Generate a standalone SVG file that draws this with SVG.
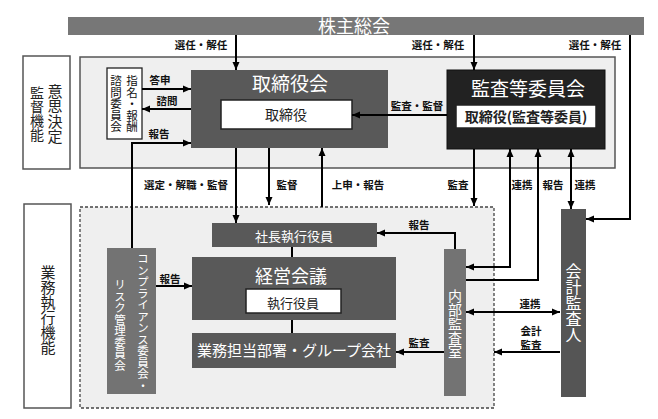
<svg xmlns="http://www.w3.org/2000/svg" width="658" height="419" viewBox="0 0 658 419">
<defs>
<marker id="arr" viewBox="0 0 8 8" refX="8" refY="4" markerWidth="8" markerHeight="8" markerUnits="userSpaceOnUse" orient="auto-start-reverse"><path d="M0,0.5 L8,4 L0,7.5 z" fill="#000"/></marker>
</defs>
<style>
text{font-family:"Noto Sans CJK JP","Noto Sans",sans-serif}
.lbl{font-size:10.5px;font-weight:bold;fill:#111;text-anchor:middle}
.wt{fill:#fff;text-anchor:middle}
.dt{fill:#222;text-anchor:middle}
.vt{writing-mode:vertical-rl;text-anchor:middle}
.ln{fill:none;stroke:#000;stroke-width:2}
.inner{fill:#fff;stroke:#222;stroke-width:1.5}
</style>
<rect width="658" height="419" fill="#fff"/>

<!-- backgrounds -->
<g id="area-top"><rect x="80" y="57" width="535" height="111" fill="#efefef" stroke="#555" stroke-width="1.5"/></g>
<g id="area-bottom"><rect x="80" y="207" width="414" height="201" fill="#efefef" stroke="#444" stroke-width="1.3" stroke-dasharray="3,2"/></g>

<g id="label-top"><rect x="23" y="56" width="47" height="113" fill="#fff" stroke="#555" stroke-width="1.5"/>
<text class="vt" x="55" y="114" font-size="15" fill="#222">意思決定</text>
<text class="vt" x="37" y="114" font-size="14" fill="#222">監督機能</text></g>
<g id="label-bottom"><rect x="24" y="204" width="47" height="204" fill="#fff" stroke="#555" stroke-width="1.5"/>
<text class="vt" x="48" y="310" font-size="15" fill="#222">業務執行機能</text></g>

<g id="kabunushi"><rect x="68" y="17" width="576" height="18" fill="#777"/>
<text class="wt" x="354" y="33" font-size="18">株主総会</text></g>

<g id="shimon"><rect x="107" y="68" width="35" height="71" fill="#fff" stroke="#222" stroke-width="1.3"/>
<text class="vt" x="132" y="104" font-size="11.5" fill="#111">指名・報酬</text>
<text class="vt" x="116" y="104" font-size="11.5" fill="#111">諮問委員会</text></g>

<g id="torishimariyakukai"><rect x="191" y="70" width="197" height="78" fill="#595959"/>
<text class="wt" x="290" y="91" font-size="19">取締役会</text>
<rect class="inner" x="221" y="100" width="131" height="29"/>
<text class="dt" x="286" y="120" font-size="14">取締役</text></g>

<g id="kansa-iinkai"><rect x="447" y="70" width="158" height="79" fill="#222" stroke="#111"/>
<text class="wt" x="528" y="96" font-size="19">監査等委員会</text>
<rect class="inner" x="456" y="105" width="140" height="23"/>
<text class="dt" x="526" y="122" font-size="14" font-weight="bold">取締役(監査等委員)</text></g>

<g id="shacho"><rect x="212" y="223" width="165" height="24" fill="#595959"/>
<text class="wt" x="294" y="241" font-size="13">社長執行役員</text></g>

<g id="keiei"><rect x="192" y="257" width="204" height="63" fill="#595959"/>
<text class="wt" x="291" y="283" font-size="18">経営会議</text>
<rect class="inner" x="246" y="289" width="95" height="24"/>
<text class="dt" x="293" y="308" font-size="13">執行役員</text></g>

<g id="gyomu"><rect x="192" y="333" width="204" height="35" fill="#595959"/>
<text class="wt" x="294" y="356" font-size="15">業務担当部署・グループ会社</text></g>

<g id="compliance"><rect x="107" y="248" width="49" height="146" fill="#737373"/>
<text class="vt" x="143" y="322" font-size="11.5" fill="#fff">コンプライアンス委員会・</text>
<text class="vt" x="120" y="325" font-size="11.5" fill="#fff">リスク管理委員会</text></g>

<g id="naibu"><rect x="444" y="249" width="22" height="147" fill="#737373"/>
<text class="vt" x="455" y="324" font-size="14" fill="#fff">内部監査室</text></g>

<g id="kaikei"><rect x="561" y="209" width="25" height="188" fill="#555"/>
<text class="vt" x="573.5" y="303" font-size="16" fill="#fff">会計監査人</text></g>

<g id="connectors">
<path class="ln" d="M236,35 V70" marker-end="url(#arr)"/>
<path class="ln" d="M474,35 V70" marker-end="url(#arr)"/>
<path class="ln" d="M630,35 V219 H586" marker-end="url(#arr)"/>
<path class="ln" d="M142,89 H191" marker-end="url(#arr)"/>
<path class="ln" d="M191,109 H142" marker-end="url(#arr)"/>
<path class="ln" d="M132,248 V143 H191" marker-end="url(#arr)"/>
<path class="ln" d="M236,148 V223" marker-end="url(#arr)"/>
<path class="ln" d="M269,148 V205" marker-end="url(#arr)"/>
<path class="ln" d="M322,207 V148" marker-end="url(#arr)"/>
<path class="ln" d="M447,115 H352" marker-end="url(#arr)"/>
<path class="ln" d="M474,149 V206" marker-end="url(#arr)"/>
<path class="ln" d="M466,267 H510 V149" marker-start="url(#arr)" marker-end="url(#arr)"/>
<path class="ln" d="M466,280 H538 V149" marker-end="url(#arr)"/>
<path class="ln" d="M571,149 V209" marker-start="url(#arr)" marker-end="url(#arr)"/>
<path class="ln" d="M292,247 V257"/>
<path class="ln" d="M292,320 V333"/>
<path class="ln" d="M156,286 H192" marker-end="url(#arr)"/>
<path class="ln" d="M455,249 V233 H377" marker-end="url(#arr)"/>
<path class="ln" d="M444,352 H396" marker-end="url(#arr)"/>
<path class="ln" d="M466,312 H560" marker-start="url(#arr)" marker-end="url(#arr)"/>
<path class="ln" d="M560,352 H494" marker-end="url(#arr)"/>

<text class="lbl" x="201" y="49">選任・解任</text>
<text class="lbl" x="438" y="49">選任・解任</text>
<text class="lbl" x="595" y="49">選任・解任</text>
<text class="lbl" x="160" y="84">答申</text>
<text class="lbl" x="167" y="105">諮問</text>
<text class="lbl" x="159" y="138">報告</text>
<text class="lbl" x="417" y="110" font-size="9" fill="#777">監査・監督</text>
<text class="lbl" x="186" y="189">選定・解職・監督</text>
<text class="lbl" x="287" y="189">監督</text>
<text class="lbl" x="358" y="189">上申・報告</text>
<text class="lbl" x="458" y="189">監査</text>
<text class="lbl" x="522" y="189">連携</text>
<text class="lbl" x="553" y="189">報告</text>
<text class="lbl" x="585" y="189">連携</text>
<text class="lbl" x="170" y="283">報告</text>
<text class="lbl" x="419" y="229">報告</text>
<text class="lbl" x="419" y="347">監査</text>
<text class="lbl" x="530" y="308">連携</text>
<text class="lbl" x="531" y="335">会計</text>
<text class="lbl" x="531" y="349">監査</text>
</g>
</svg>
